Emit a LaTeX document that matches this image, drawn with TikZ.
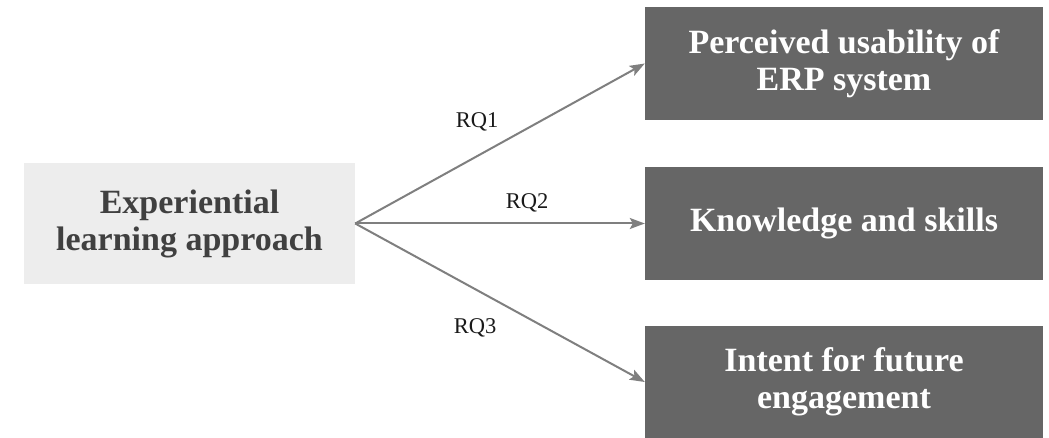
\documentclass[tikz,border=0pt]{standalone}
\usepackage{fontspec}
\setmainfont{Liberation Serif}
\usetikzlibrary{arrows.meta}
\definecolor{srcfill}{HTML}{EDEDED}
\definecolor{srctext}{HTML}{404040}
\definecolor{outfill}{HTML}{666666}
\definecolor{linkgray}{HTML}{7F7F7F}
\tikzset{
  srcbox/.style={fill=srcfill, text=srctext, minimum width=331pt, minimum height=121pt,
    align=center, inner sep=0pt, font=\fontsize{34}{37}\selectfont\bfseries},
  outbox/.style={fill=outfill, text=white, minimum width=398pt, minimum height=113pt,
    align=center, inner sep=0pt, font=\fontsize{34}{37}\selectfont\bfseries},
  link/.style={draw=linkgray, line width=2pt, -{Stealth[length=15pt,width=11pt,inset=3pt]}},
  rqlabel/.style={text=black!90, font=\fontsize{22.5}{26}\selectfont, inner sep=0pt}
}
\begin{document}
\begin{tikzpicture}[x=1pt,y=-1pt]
  \useasboundingbox (0,0) rectangle (1049,438);
  \node[srcbox] (exp) at (189.5,223.5) {Experiential\\learning approach};
  \node[outbox] (pu) at (844,63.5) {Perceived usability of\\ERP system};
  \node[outbox] (ks) at (844,223.5) {Knowledge and skills};
  \node[outbox, minimum height=112pt] (ie) at (844,382) {Intent for future\\engagement};
  \draw[link] (exp.east) -- (pu.west);
  \draw[link] (exp.east) -- (ks.west);
  \draw[link] (exp.east) -- (ie.west);
  \node[rqlabel] (rq1) at (477,122) {RQ1};
  \node[rqlabel] (rq2) at (527,203) {RQ2};
  \node[rqlabel] (rq3) at (475,328) {RQ3};
\end{tikzpicture}
\end{document}
